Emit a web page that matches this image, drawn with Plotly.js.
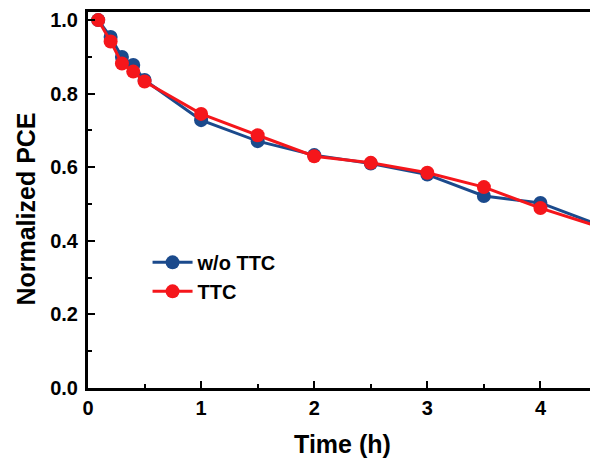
<!DOCTYPE html>
<html><head><meta charset="utf-8">
<script src="https://cdn.plot.ly/plotly-3.0.1.min.js"></script>
<style>html,body{margin:0;padding:0;overflow:hidden;background:#fff;width:590px;height:462px}</style>
</head><body><div id="chart" style="width:617px;height:462px"></div>
<script>
const timeH = [0.09, 0.2, 0.3, 0.4, 0.5, 1, 1.5, 2, 2.5, 3, 3.5, 4, 4.5];
const woTTC = [1.0, 0.954, 0.900, 0.878, 0.837, 0.728, 0.671, 0.633, 0.610, 0.580, 0.522, 0.503, 0.445];
const withTTC = [1.0, 0.942, 0.882, 0.860, 0.833, 0.745, 0.687, 0.630, 0.612, 0.585, 0.546, 0.489, 0.440];
const seriesNames = ['w/o TTC', 'TTC'];
const xTickVals = [0, 1, 2, 3, 4];
const yTitle = 'Normalized PCE';
const xTitle = 'Time (h)';

const font = {family: 'Arial, "Liberation Sans", sans-serif', color: '#000'};
const traces = [
  {x: timeH, y: woTTC, name: seriesNames[0], mode: 'lines+markers',
   line: {color: '#1b4a8c', width: 3}, marker: {color: '#1b4a8c', size: 14}},
  {x: timeH, y: withTTC, name: seriesNames[1], mode: 'lines+markers',
   line: {color: '#f5161b', width: 3}, marker: {color: '#f5161b', size: 14}}
];
const layout = {
  width: 617, height: 462,
  margin: {l: 88, r: 20, t: 12, b: 74},
  paper_bgcolor: '#fff', plot_bgcolor: '#fff',
  font: font,
  showlegend: true,
  legend: {x: 0.117, y: 0.386, xanchor: 'left', yanchor: 'top', bgcolor: 'rgba(0,0,0,0)',
           font: {family: font.family, size: 20, weight: 'bold', color: '#000'},
           tracegroupgap: 0, itemwidth: 40},
  xaxis: {range: [0, 4.5], showline: true, linewidth: 3, linecolor: '#000', mirror: true,
          ticks: 'inside', ticklen: 7, tickwidth: 2, tickcolor: '#000', tickvals: xTickVals,
          minor: {ticks: 'inside', ticklen: 4, tickwidth: 2, tickcolor: '#000', dtick: 0.5},
          showgrid: false, zeroline: false,
          tickfont: {family: font.family, size: 20, weight: 'bold'},
          title: {text: xTitle, font: {family: font.family, size: 25, weight: 'bold'}, standoff: 18}},
  yaxis: {range: [0, 1.022], showline: true, linewidth: 3, linecolor: '#000', mirror: true,
          ticks: 'inside', ticklen: 7, tickwidth: 2, tickcolor: '#000', dtick: 0.2, tickformat: '.1f',
          minor: {ticks: 'inside', ticklen: 4, tickwidth: 2, tickcolor: '#000', dtick: 0.1},
          showgrid: false, zeroline: false, ticklabelstandoff: 3,
          tickfont: {family: font.family, size: 20, weight: 'bold'}},
  annotations: [{text: yTitle, textangle: -90, xref: 'paper', yref: 'y', x: 0, y: 0.485,
                 xanchor: 'center', yanchor: 'middle', xshift: -62, showarrow: false,
                 font: {family: font.family, size: 25, weight: 'bold', color: '#000'}}]
};
Plotly.newPlot('chart', traces, layout, {displayModeBar: false, staticPlot: true});
</script></body></html>
